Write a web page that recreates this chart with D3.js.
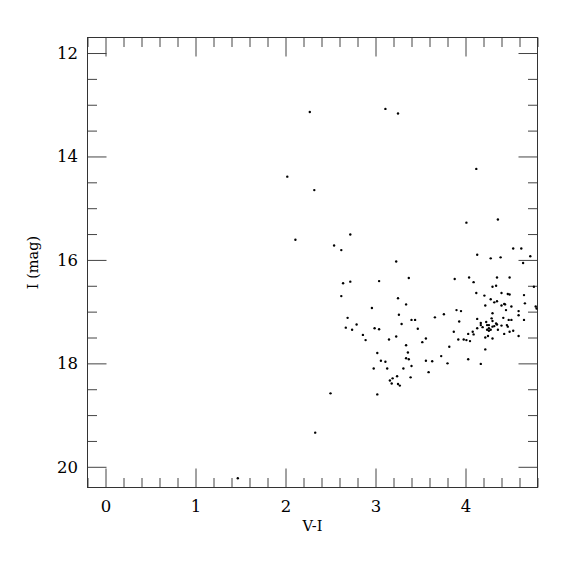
<!DOCTYPE html>
<html>
<head>
<meta charset="utf-8">
<script src="https://cdn.jsdelivr.net/npm/d3@7"></script>
<style>
  body { margin: 0; background: #fff; }
  text { font-family: "DejaVu Serif", serif; fill: #000; }
</style>
</head>
<body>
<svg id="cmd"></svg>
<script>
// colour (V-I) and magnitude (I) of each star
const colorVI = [
  2.27, 3.11, 3.25, 2.02, 2.32, 4.12, 4.01, 4.36, 2.11, 2.72,
  2.54, 2.62, 3.23, 3.37, 2.64, 2.72, 3.04, 2.62, 3.25, 3.34,
  2.96, 3.26, 3.66, 2.69, 3.40, 3.44, 3.29, 2.79, 2.67, 2.99,
  3.04, 2.74, 3.47, 2.86, 2.89, 3.15, 3.23, 3.34, 3.56, 3.52,
  3.02, 3.36, 3.06, 3.11, 3.34, 3.37, 3.56, 3.63, 2.98, 3.13,
  3.31, 3.40, 3.59, 3.24, 3.19, 3.39, 3.16, 3.18, 3.25, 3.27,
  2.50, 3.02, 2.33, 1.47, 4.53, 4.62, 4.13, 4.28, 4.39, 4.72,
  4.64, 3.88, 4.04, 4.09, 4.35, 4.49, 4.30, 4.34, 4.76, 4.12,
  4.21, 4.40, 4.47, 4.49, 4.65, 4.28, 4.32, 4.35, 4.22, 4.40,
  4.43, 4.44, 4.51, 4.66, 4.78, 4.79, 4.45, 4.59, 4.59, 3.76,
  3.90, 3.95, 4.30, 4.13, 4.42, 4.48, 4.51, 4.65, 3.93, 4.17,
  4.23, 4.29, 4.30, 4.17, 4.24, 4.26, 4.34, 4.35, 4.30, 4.32,
  4.40, 4.46, 4.47, 4.13, 4.19, 4.24, 4.26, 4.28, 4.36, 3.87,
  4.03, 4.08, 4.09, 4.26, 4.43, 4.49, 4.53, 4.59, 3.92, 3.98,
  4.01, 4.05, 4.22, 4.25, 4.30, 3.82, 4.22, 3.73, 4.03, 3.80,
  4.17
];
const magI = [
  13.14, 13.08, 13.17, 14.39, 14.65, 14.24, 15.28, 15.22, 15.61, 15.51,
  15.72, 15.81, 16.03, 16.35, 16.45, 16.42, 16.41, 16.70, 16.74, 16.86,
  16.93, 17.06, 17.11, 17.12, 17.16, 17.16, 17.24, 17.25, 17.31, 17.32,
  17.34, 17.35, 17.33, 17.45, 17.55, 17.54, 17.48, 17.65, 17.52, 17.59,
  17.80, 17.79, 17.95, 17.97, 17.90, 17.92, 17.95, 17.96, 18.10, 18.10,
  18.10, 18.05, 18.17, 18.25, 18.29, 18.27, 18.33, 18.39, 18.40, 18.43,
  18.58, 18.60, 19.34, 20.22, 15.78, 15.78, 15.90, 15.97, 15.95, 15.93,
  16.06, 16.37, 16.34, 16.43, 16.34, 16.34, 16.52, 16.50, 16.52, 16.64,
  16.69, 16.64, 16.66, 16.67, 16.68, 16.76, 16.82, 16.80, 16.88, 16.88,
  16.85, 16.86, 16.90, 16.84, 16.90, 16.94, 16.97, 16.99, 17.07, 17.05,
  16.97, 16.99, 17.03, 17.14, 17.12, 17.16, 17.16, 17.16, 17.19, 17.22,
  17.20, 17.13, 17.18, 17.26, 17.26, 17.26, 17.23, 17.25, 17.29, 17.28,
  17.27, 17.26, 17.29, 17.32, 17.30, 17.35, 17.32, 17.35, 17.35, 17.39,
  17.43, 17.39, 17.44, 17.37, 17.43, 17.39, 17.37, 17.47, 17.54, 17.54,
  17.55, 17.57, 17.50, 17.47, 17.52, 17.68, 17.73, 17.86, 17.92, 18.00,
  18.01
];

// axis ranges and ticks
const xDomain = [-0.2, 4.8];
const yDomain = [11.7, 20.4];
const xMajor = [0, 1, 2, 3, 4];
const yMajor = [12, 14, 16, 18, 20];

const margin = {top: 37.5, right: 37.5, bottom: 87.5, left: 87.5},
    width = 575 - margin.left - margin.right,
    height = 575 - margin.top - margin.bottom;

const svg = d3.select("#cmd")
    .attr("width", 575)
    .attr("height", 575)
    .append("g")
    .attr("transform", `translate(${margin.left},${margin.top})`);

const x = d3.scaleLinear().domain(xDomain).range([0, width]);
const y = d3.scaleLinear().domain(yDomain).range([0, height]);

const isInt = v => Math.abs(v - Math.round(v)) < 1e-6;
const xMinor = d3.range(-0.2, 4.81, 0.2).filter(v => !isInt(v));
const yMinor = d3.range(12, 20.41, 0.5).filter(v => !yMajor.some(m => Math.abs(m - v) < 1e-6));

const majorLen = 19, minorLen = 9.5;

// helper: draw one side of ticks
function side(axisFn, where, values, len, fmt, pad) {
    const g = svg.append("g")
        .attr("transform", where)
        .call(axisFn.tickValues(values).tickSize(-len).tickPadding(pad || 3)
              .tickFormat(fmt || (() => "")));
    g.select(".domain").remove();
    g.selectAll(".tick line").attr("stroke", "#444").attr("stroke-width", 1);
    return g;
}

// bottom (labelled)
const bx = side(d3.axisBottom(x), `translate(0,${height})`, xMajor, majorLen, d3.format("d"), 13);
bx.selectAll("text").attr("font-size", 16.5).attr("font-family", "DejaVu Serif");
side(d3.axisBottom(x), `translate(0,${height})`, xMinor, minorLen);
// top
side(d3.axisTop(x), "translate(0,0)", xMajor, majorLen);
side(d3.axisTop(x), "translate(0,0)", xMinor, minorLen);
// left (labelled)
const ly = side(d3.axisLeft(y), "translate(0,0)", yMajor, majorLen, d3.format("d"), 9.5);
ly.selectAll("text").attr("font-size", 16.5).attr("font-family", "DejaVu Serif");
side(d3.axisLeft(y), "translate(0,0)", yMinor, minorLen);
// right
side(d3.axisRight(y), `translate(${width},0)`, yMajor, majorLen);
side(d3.axisRight(y), `translate(${width},0)`, yMinor, minorLen);

// frame
svg.append("rect")
    .attr("width", width)
    .attr("height", height)
    .attr("fill", "none")
    .attr("stroke", "#333")
    .attr("stroke-width", 1);

svg.append("clipPath").attr("id", "plotClip")
    .append("rect").attr("width", width).attr("height", height);

// stars
const stars = colorVI.map((c, i) => ({vi: c, mag: magI[i]}));
svg.append("g")
    .attr("clip-path", "url(#plotClip)")
    .selectAll("circle")
    .data(stars)
    .enter().append("circle")
    .attr("cx", d => x(d.vi))
    .attr("cy", d => y(d.mag))
    .attr("r", 1.2)
    .attr("fill", "#000");

// axis titles
svg.append("text")
    .attr("x", width / 2)
    .attr("y", height + 43.5)
    .attr("text-anchor", "middle")
    .attr("font-size", 14.5)
    .text("V-I");

svg.append("text")
    .attr("transform", `translate(${38 - margin.left},${height / 2}) rotate(-90)`)
    .attr("text-anchor", "middle")
    .attr("font-size", 14.5)
    .text("I (mag)");
</script>
</body>
</html>
